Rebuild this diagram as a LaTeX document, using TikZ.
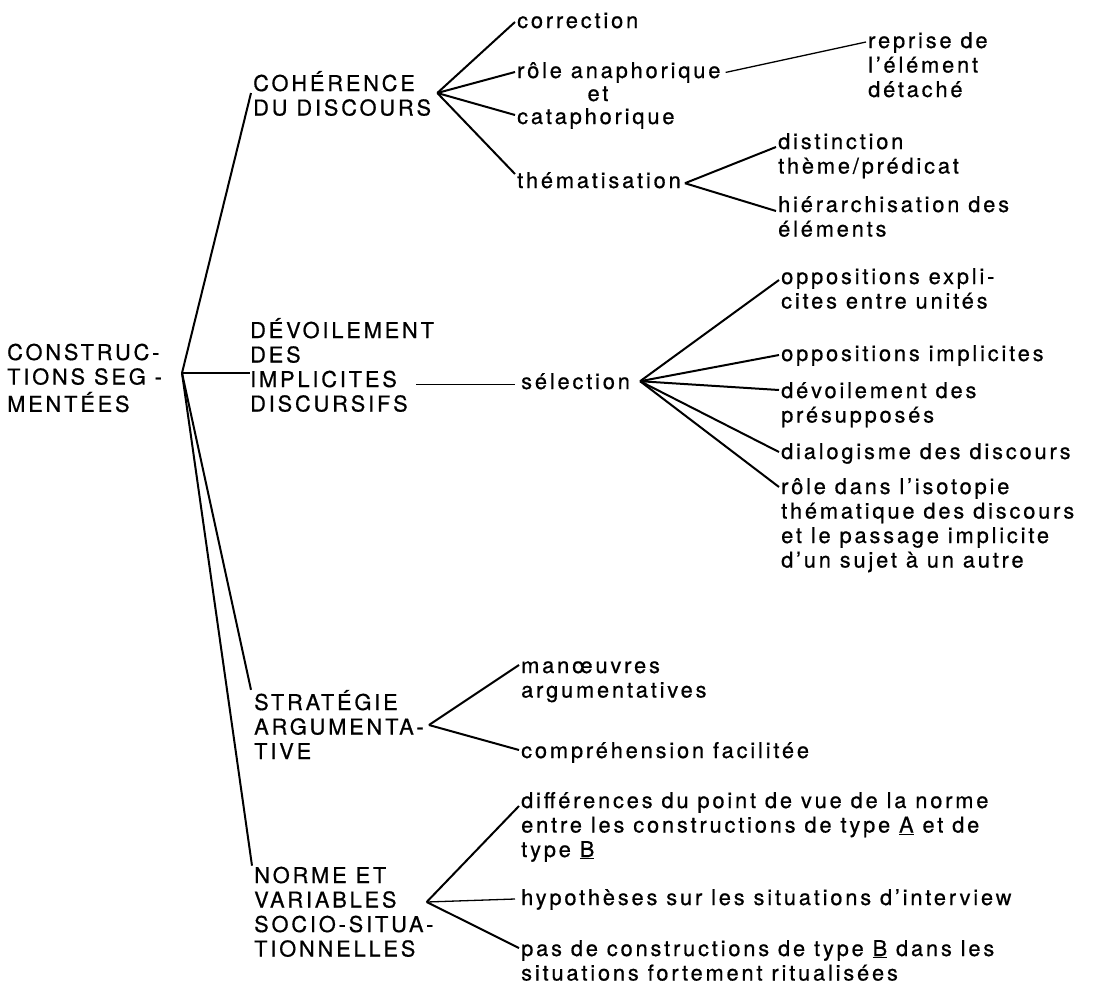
\documentclass[tikz,border=0pt]{standalone}
\usepackage{fontspec}
\setmainfont{TeX Gyre Heros}[LetterSpace=13, FakeBold=0.7]
\newcommand{\stack}[1]{\begin{tabular}[t]{@{}l@{}}#1\end{tabular}}

\begin{document}
\begin{tikzpicture}[x=1pt, y=-1pt,
    term/.style={anchor=base west, inner sep=0pt, align=left, font=\fontsize{21.8}{24.5}\selectfont},
    branch/.style={line width=2pt},
    fine/.style={line width=1.3pt}]
                \useasboundingbox (0,0) rectangle (1094,985);

                \node[term] (root) at (7,360) {\stack{CONSTRUC-\\TIONS SEG -\\MENTÉES}};
                \coordinate (hubroot) at (182,373);

                \node[term] (coh) at (253,91) {\stack{COHÉRENCE\\DU DISCOURS}};
                \node[term] (dev) at (250,338) {\stack{DÉVOILEMENT\\DES\\IMPLICITES\\DISCURSIFS}};
                \node[term] (strat) at (254,710) {\stack{STRATÉGIE\\ARGUMENTA-\\TIVE}};
                \node[term] (norme) at (254,883) {\stack{NORME ET\\VARIABLES\\SOCIO-SITUA-\\TIONNELLES}};

                \node[term] (corr) at (517,28) {correction};
                \node[term] (anaph) at (517,78) {rôle anaphorique};
                \node[term, anchor=base] (et) at (598,101) {et};
                \node[term] (cata) at (517,124) {cataphorique};
                \node[term] (them) at (517,188) {thématisation};
                \node[term] (reprise) at (868,48) {\stack{reprise de\\l’élément\\détaché}};
                \node[term] (dist) at (778,149) {\stack{distinction\\thème/prédicat}};
                \node[term] (hier) at (778,212) {\stack{hiérarchisation des\\éléments}};

                \node[term] (sel) at (521,389) {sélection};
                \node[term] (oppexp) at (781,284) {\stack{oppositions expli-\\cites entre unités}};
                \node[term] (oppimp) at (781,361) {oppositions implicites};
                \node[term] (devpre) at (781,398) {\stack{dévoilement des\\présupposés}};
                \node[term] (dialo) at (781,459) {dialogisme des discours};
                \node[term] (isot) at (781,494) {\stack{rôle dans l’isotopie\\thématique des discours\\et le passage implicite\\d’un sujet à un autre}};

                \node[term] (manoe) at (521,673) {\stack{manœuvres\\argumentatives}};
                \node[term] (compr) at (521,758) {compréhension facilitée};
                \node[term] (diff) at (521,808) {\stack{différences du point de vue de la norme\\entre les constructions de type \underline{A} et de\\type \underline{B}}};
                \node[term] (hypo) at (521,905) {hypothèses sur les situations d’interview};
                \node[term] (pasde) at (521,956) {\stack{pas de constructions de type \underline{B} dans les\\situations fortement ritualisées}};

                \coordinate (hubcoh) at ([xshift=6pt,yshift=-2pt]coh.base east);
                \coordinate (hubthem) at ([xshift=4pt,yshift=-3pt]them.east);
                \coordinate (hubsel) at ([xshift=10pt]sel.east);
                \coordinate (devimpl) at ([xshift=-105pt,yshift=-3pt]sel.west);
                \coordinate (hubstrat) at ([xshift=5pt,yshift=-15pt]strat.base east);
                \coordinate (hubnorme) at ([xshift=-7pt,yshift=-19pt]norme.base east);

                \draw[branch] (hubroot) -- ([xshift=-2pt,yshift=-2pt]coh.base west);
                \draw[branch] (hubroot) -- (hubroot -| dev.west);
                \draw[branch] (hubroot) -- ([xshift=-3pt]strat.north west);
                \draw[branch] (hubroot) -- ([xshift=-2pt]norme.north west);

                \draw[branch] (hubcoh) -- ([xshift=-2pt,yshift=6pt]corr.base west);
                \draw[branch] (hubcoh) -- ([xshift=-2pt,yshift=6pt]anaph.base west);
                \draw[branch] (hubcoh) -- ([xshift=-2pt,yshift=9pt]cata.base west);
                \draw[branch] (hubcoh) -- ([xshift=-2pt,yshift=14pt]them.base west);
                \draw[fine] ([xshift=5pt]anaph.east) -- ([xshift=-2pt,yshift=6pt]reprise.base west);
                \draw[branch] (hubthem) -- ([xshift=-2pt,yshift=2pt]dist.base west);
                \draw[branch] (hubthem) -- ([xshift=-2pt,yshift=1pt]hier.base west);

                \draw[fine] (devimpl) -- ([xshift=-6pt,yshift=-3pt]sel.west);
                \draw[branch] (hubsel) -- ([xshift=-2pt,yshift=4pt]oppexp.base west);
                \draw[branch] (hubsel) -- ([xshift=-2pt,yshift=6pt]oppimp.base west);
                \draw[branch] (hubsel) -- ([xshift=-2pt,yshift=8pt]devpre.base west);
                \draw[branch] (hubsel) -- ([xshift=-2pt,yshift=7pt]dialo.base west);
                \draw[branch] (hubsel) -- ([xshift=-2pt,yshift=7pt]isot.base west);

                \draw[branch] (hubstrat) -- ([xshift=-2pt,yshift=8pt]manoe.base west);
                \draw[branch] (hubstrat) -- ([xshift=-2pt,yshift=8pt]compr.base west);
                \draw[branch] (hubnorme) -- ([xshift=-2pt,yshift=2pt]diff.base west);
                \draw[fine] (hubnorme) -- ([xshift=-6pt,yshift=6pt]hypo.base west);
                \draw[branch] (hubnorme) -- ([xshift=-2pt,yshift=8pt]pasde.base west);
\end{tikzpicture}
\end{document}
